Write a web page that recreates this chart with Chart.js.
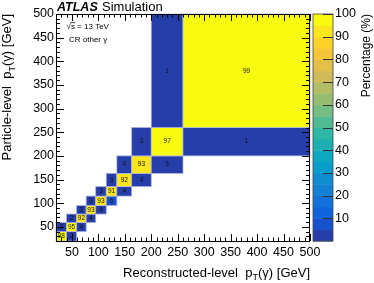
<!DOCTYPE html>
<html><head><meta charset="utf-8">
<script src="https://cdn.jsdelivr.net/npm/chart.js@4.4.0/dist/chart.umd.min.js"></script>
<style>html,body{margin:0;padding:0;background:#fff;overflow:hidden}</style>
</head><body>
<canvas id="c" width="374" height="283" style="display:block;width:374px;height:283px"></canvas>
<script>
// ---- data ----
const binEdges = [20, 40, 59, 77, 95, 115, 135, 163, 200, 260, 500];
const cellRecoBin  = [0, 1,  0, 1, 2,  1, 2, 3,  2, 3, 4,  3, 4, 5,  4, 5, 6,  5, 6, 7,  6, 7, 8,  7, 8, 9,  8, 9];
const cellTruthBin = [0, 0,  1, 1, 1,  2, 2, 2,  3, 3, 3,  4, 4, 4,  5, 5, 5,  6, 6, 6,  7, 7, 7,  8, 8, 8,  9, 9];
const cellPercent  = [98, 2, 2, 95, 4, 2, 92, 4, 3, 93, 4, 3, 93, 6, 3, 91, 4, 3, 92, 4, 4, 93, 3, 3, 97, 1, 1, 99];
const xTickValues = [50, 100, 150, 200, 250, 300, 350, 400, 450, 500];
const yTickValues = [50, 100, 150, 200, 250, 300, 350, 400, 450, 500];
const zTickValues = [10, 20, 30, 40, 50, 60, 70, 80, 90, 100];

// ---- palette (ROOT kBird) ----
const birdStops = [0.0, 0.125, 0.25, 0.375, 0.5, 0.625, 0.75, 0.875, 1.0];
const birdR = [0.2082, 0.0592, 0.0780, 0.0232, 0.1802, 0.5301, 0.8186, 0.9956, 0.9764];
const birdG = [0.1664, 0.3599, 0.5041, 0.6419, 0.7178, 0.7492, 0.7328, 0.7862, 0.9832];
const birdB = [0.5293, 0.8684, 0.8385, 0.7914, 0.6425, 0.4662, 0.3499, 0.1968, 0.0539];
function bird(f) {
  f = Math.max(0, Math.min(1, f));
  let k = 0;
  while (k < birdStops.length - 2 && f > birdStops[k + 1]) k++;
  const t = (f - birdStops[k]) / (birdStops[k + 1] - birdStops[k]);
  const c = a => Math.round(255 * (a[k] + t * (a[k + 1] - a[k])));
  return `rgb(${c(birdR)},${c(birdG)},${c(birdB)})`;
}
const nBands = 20;
function zColor(v) {
  const band = Math.min(nBands - 1, Math.floor(v / (100 / nBands)));
  return bird((band + 0.99) / nBands);
}

const FONT = 'Liberation Sans, Arial, Helvetica, sans-serif';
Chart.defaults.font.family = FONT;

const points = cellPercent.map((v, k) => ({
  x: (binEdges[cellRecoBin[k]] + binEdges[cellRecoBin[k] + 1]) / 2,
  y: (binEdges[cellTruthBin[k]] + binEdges[cellTruthBin[k] + 1]) / 2,
  i: cellRecoBin[k], j: cellTruthBin[k], v: v
}));

function drawRich(ctx, segs, x, y, size, align) {
  const main = size + 'px ' + FONT, sub = (size * 0.7) + 'px ' + FONT;
  let w = 0;
  segs.forEach(s => { ctx.font = s.sub ? sub : main; w += ctx.measureText(s.t).width; });
  let cx = align === 'right' ? x - w : x;
  ctx.textAlign = 'left';
  ctx.textBaseline = 'alphabetic';
  segs.forEach(s => {
    ctx.font = s.sub ? sub : main;
    ctx.fillText(s.t, cx, y + (s.sub ? size * 0.3 : 0));
    cx += ctx.measureText(s.t).width;
  });
}

const heatPlugin = {
  id: 'heat',
  beforeDraw(chart) {
    const ctx = chart.ctx;
    ctx.save(); ctx.fillStyle = '#fff'; ctx.fillRect(0, 0, chart.width, chart.height); ctx.restore();
  },
  afterDraw(chart) {
    const ctx = chart.ctx, xs = chart.scales.x, ys = chart.scales.y, zs = chart.scales.z;
    const a = chart.chartArea;
    ctx.save();
    // cells
    const data = chart.data.datasets[0].data;
    data.forEach(p => {
      const x0 = xs.getPixelForValue(binEdges[p.i]), x1 = xs.getPixelForValue(binEdges[p.i + 1]);
      const y0 = ys.getPixelForValue(binEdges[p.j + 1]), y1 = ys.getPixelForValue(binEdges[p.j]);
      ctx.fillStyle = zColor(p.v);
      ctx.fillRect(x0, y0, x1 - x0, y1 - y0);
      ctx.strokeStyle = 'rgba(175,180,230,0.9)';
      ctx.lineWidth = 0.8;
      ctx.strokeRect(x0, y0, x1 - x0, y1 - y0);
    });
    ctx.fillStyle = '#111';
    ctx.font = '6.5px ' + FONT;
    ctx.textAlign = 'center'; ctx.textBaseline = 'middle';
    data.forEach(p => {
      ctx.fillText(String(p.v), xs.getPixelForValue(p.x), ys.getPixelForValue(p.y));
    });
    // frame
    ctx.strokeStyle = '#000'; ctx.lineWidth = 1;
    ctx.strokeRect(Math.round(a.left) + 0.5, Math.round(a.top) + 0.5, Math.round(a.right - a.left) - 1, Math.round(a.bottom - a.top));
    // ticks
    ctx.beginPath();
    for (let v = 20; v <= 500; v += 10) {
      const major = v % 50 === 0;
      const px = Math.round(xs.getPixelForValue(v)) + 0.5;
      const L = major ? 7 : 3.5;
      ctx.moveTo(px, a.bottom); ctx.lineTo(px, a.bottom - L);
      ctx.moveTo(px, a.top); ctx.lineTo(px, a.top + L);
      const py = Math.round(ys.getPixelForValue(v)) + 0.5;
      const M = major ? 8 : 4;
      ctx.moveTo(a.left, py); ctx.lineTo(a.left + M, py);
      ctx.moveTo(a.right, py); ctx.lineTo(a.right - M, py);
    }
    ctx.stroke();
    // colour bar
    const cbL = 313, cbR = 333;
    for (let b = 0; b < nBands; b++) {
      const yA = zs.getPixelForValue(b * 100 / nBands), yB = zs.getPixelForValue((b + 1) * 100 / nBands);
      ctx.fillStyle = bird((b + 0.99) / nBands);
      ctx.fillRect(cbL, yB, cbR - cbL, yA - yB + 0.5);
    }
    ctx.strokeStyle = '#444'; ctx.lineWidth = 0.8;
    ctx.strokeRect(cbL, a.top, cbR - cbL, a.bottom - a.top);
    ctx.strokeStyle = '#333'; ctx.lineWidth = 1;
    ctx.beginPath();
    zTickValues.forEach(v => {
      const py = Math.round(zs.getPixelForValue(v)) + 0.5;
      ctx.moveTo(cbR, py); ctx.lineTo(cbR - 10, py);
    });
    ctx.stroke();
    // texts
    ctx.fillStyle = '#000';
    ctx.textAlign = 'left'; ctx.textBaseline = 'alphabetic';
    ctx.font = 'italic bold 12.5px ' + FONT;
    ctx.fillText('ATLAS', 57, 10.5);
    ctx.font = '13px ' + FONT;
    ctx.fillText('Simulation', 102, 10.5);
    ctx.font = '8px ' + FONT;
    ctx.fillText('\u221A', 66.5, 29);
    const sq = ctx.measureText('\u221A').width;
    ctx.fillText('s = 13 TeV', 66.5 + sq, 29);
    const sw = ctx.measureText('s').width;
    ctx.beginPath(); ctx.lineWidth = 0.7; ctx.strokeStyle = '#000';
    ctx.moveTo(66.5 + sq - 0.5, 22.6); ctx.lineTo(66.5 + sq + sw + 0.3, 22.6); ctx.stroke();
    ctx.fillText('CR other \u03B3', 69, 41.5);
    // axis titles
    drawRich(ctx, [{t: 'Reconstructed-level  p'}, {t: 'T', sub: true}, {t: '(\u03B3) [GeV]'}], a.right, 276.5, 13, 'right');
    ctx.save();
    ctx.translate(11, a.top); ctx.rotate(-Math.PI / 2);
    drawRich(ctx, [{t: 'Particle-level  p'}, {t: 'T', sub: true}, {t: '(\u03B3) [GeV]'}], 0, 0, 13, 'right');
    ctx.restore();
    ctx.save();
    ctx.translate(370, a.top); ctx.rotate(-Math.PI / 2);
    drawRich(ctx, [{t: 'Percentage (%)'}], 0, 0, 12, 'right');
    ctx.restore();
    ctx.restore();
  }
};

const tickFont = {family: FONT, size: 12.5};
new Chart(document.getElementById('c'), {
  type: 'scatter',
  data: {datasets: [{data: points, pointRadius: 0, pointHoverRadius: 0, showLine: false}]},
  options: {
    responsive: false, animation: false, devicePixelRatio: 1,
    layout: {padding: {top: 14, left: 0, right: 0, bottom: 0}},
    plugins: {legend: {display: false}, tooltip: {enabled: false}},
    events: [],
    scales: {
      x: {type: 'linear', min: 20, max: 500,
        afterBuildTicks: s => { s.ticks = xTickValues.map(v => ({value: v})); },
        afterFit: s => { s.height = 42; },
        grid: {display: false, drawTicks: false}, border: {display: false},
        ticks: {font: tickFont, color: '#000', padding: 4, maxRotation: 0, autoSkip: false}},
      y: {type: 'linear', min: 20, max: 500,
        afterBuildTicks: s => { s.ticks = yTickValues.map(v => ({value: v})); },
        afterFit: s => { s.width = 56; },
        grid: {display: false, drawTicks: false}, border: {display: false},
        ticks: {font: tickFont, color: '#000', padding: 2, autoSkip: false}},
      z: {type: 'linear', position: 'right', min: 0, max: 100,
        afterBuildTicks: s => { s.ticks = zTickValues.map(v => ({value: v})); },
        afterFit: s => { s.width = 64; },
        grid: {display: false, drawTicks: true, tickLength: 25}, border: {display: false},
        ticks: {font: {family: FONT, size: 12.5}, color: '#000', padding: 0, autoSkip: false}}
    }
  },
  plugins: [heatPlugin]
});
</script>
</body></html>
